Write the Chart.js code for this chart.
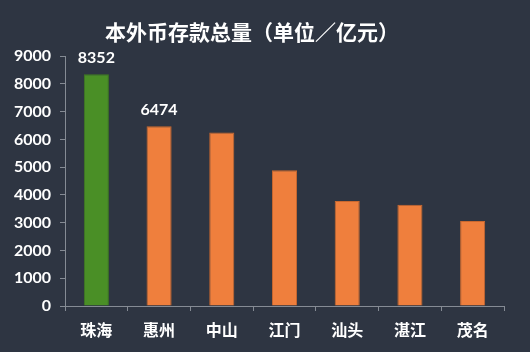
<!DOCTYPE html>
<html>
<head>
<meta charset="utf-8">
<script src="https://cdn.jsdelivr.net/npm/chart.js@4"></script>
<style>
  html, body { margin: 0; padding: 0; background: #2e3542; }
  #wrap { width: 530px; height: 352px; }
</style>
</head>
<body>
<div id="wrap"><canvas id="depositChart" width="530" height="352"></canvas></div>
<script>
// 本外币存款总量，单位：亿元
const cities = ["珠海", "惠州", "中山", "江门", "汕头", "湛江", "茂名"];
const deposits = [8352, 6474, 6255, 4895, 3780, 3650, 3060];
const barColors = ["#4a8f26", "#ef7f3d", "#ef7f3d", "#ef7f3d", "#ef7f3d", "#ef7f3d", "#ef7f3d"];
const borderColors = ["#3f7a20", "#c9682f", "#c9682f", "#c9682f", "#c9682f", "#c9682f", "#c9682f"];
const labeledBars = [0, 1]; // only these bars show their value
const yTicks = [0, 1000, 2000, 3000, 4000, 5000, 6000, 7000, 8000, 9000];

const axisGrey = "#858b94";
const cjkFont = "'Noto Sans CJK SC', 'Noto Sans', sans-serif";
const numFont = "Lato, 'Noto Sans', sans-serif";

// draw value labels above selected bars
const valueLabels = {
  id: "valueLabels",
  afterDatasetsDraw(chart) {
    const ctx = chart.ctx;
    const meta = chart.getDatasetMeta(0);
    ctx.save();
    ctx.fillStyle = "#ffffff";
    ctx.font = "bold 16px " + numFont;
    ctx.textAlign = "center";
    ctx.textBaseline = "bottom";
    labeledBars.forEach((i) => {
      const bar = meta.data[i];
      ctx.fillText(String(deposits[i]), bar.x, bar.y - 8);
    });
    ctx.restore();
  },
};

new Chart(document.getElementById("depositChart"), {
  type: "bar",
  data: {
    labels: cities,
    datasets: [
      {
        data: deposits,
        backgroundColor: barColors,
        borderColor: borderColors,
        borderWidth: 1,
        categoryPercentage: 1,
        barPercentage: 0.4,
      },
    ],
  },
  options: {
    responsive: false,
    animation: false,
    layout: {
      padding: { top: 0, right: 26, bottom: 0, left: 0 },
    },
    plugins: {
      legend: { display: false },
      tooltip: { enabled: false },
      title: {
        display: true,
        text: "本外币存款总量（单位／亿元）",
        color: "#ffffff",
        font: { family: cjkFont, size: 21, weight: "bold", lineHeight: 1.2 },
        padding: { top: 19, bottom: 12 },
      },
    },
    scales: {
      x: {
        grid: {
          display: true,
          drawOnChartArea: false,
          drawTicks: true,
          tickLength: 5,
          color: axisGrey,
          offset: true,
        },
        border: { display: true, color: axisGrey, width: 1 },
        ticks: {
          color: "#ffffff",
          padding: 9,
          font: { family: cjkFont, size: 16, weight: "bold" },
        },
        afterFit(scale) {
          scale.height = 46;
        },
      },
      y: {
        min: 0,
        max: 9000,
        afterBuildTicks(scale) {
          scale.ticks = yTicks.map((v) => ({ value: v }));
        },
        grid: {
          display: true,
          drawOnChartArea: false,
          drawTicks: true,
          tickLength: 5,
          color: axisGrey,
        },
        border: { display: true, color: axisGrey, width: 1 },
        ticks: {
          color: "#ffffff",
          padding: 9,
          font: { family: numFont, size: 16, weight: "bold" },
          callback: (value) => String(value),
        },
        afterFit(scale) {
          scale.width = 65;
        },
      },
    },
  },
  plugins: [valueLabels],
});
</script>
</body>
</html>
